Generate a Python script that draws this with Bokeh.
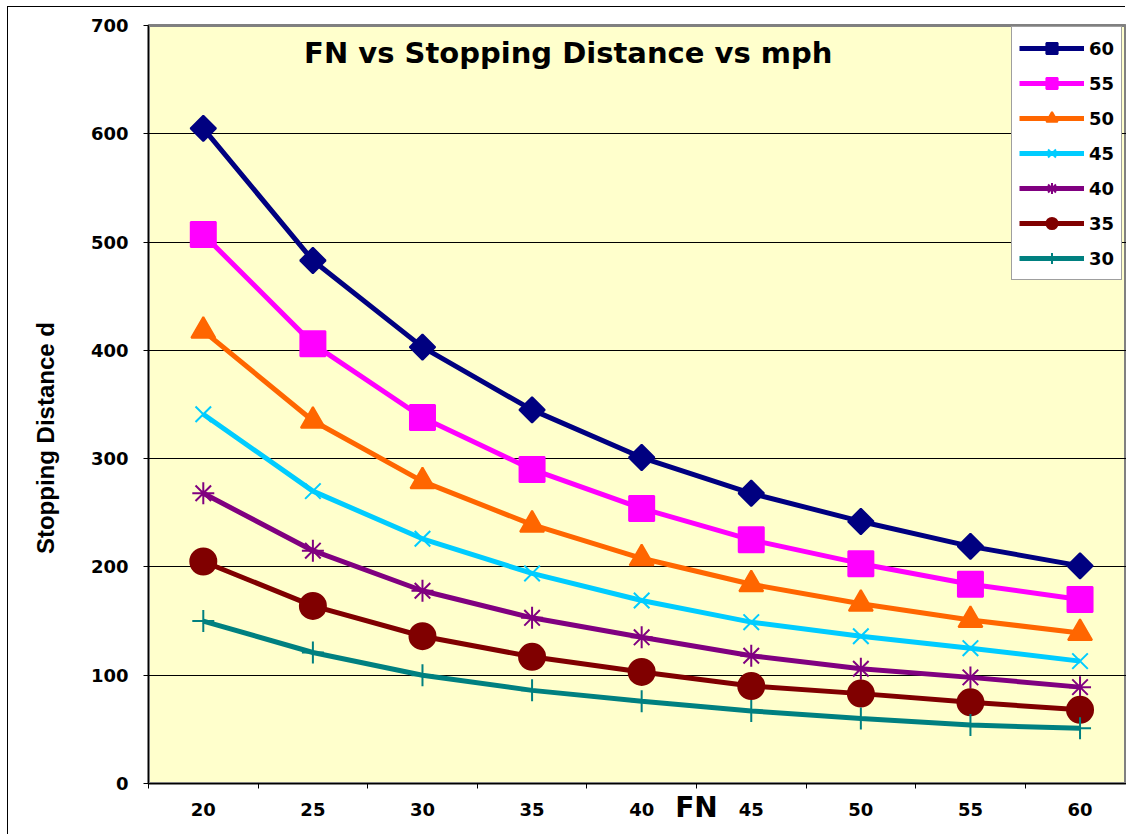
import numpy as np
from bokeh.plotting import figure
from bokeh.models import Range1d, FixedTicker, Legend, LegendItem, Label, LinearAxis, InlineStyleSheet
from bokeh.embed import file_html
from bokeh.resources import INLINE

# ---- data ----
fn = [20, 25, 30, 35, 40, 45, 50, 55, 60]
mph_labels = ["60", "55", "50", "45", "40", "35", "30"]
d60 = [605, 483, 403, 345, 301, 268, 242, 219, 201]
d55 = [507, 406, 338, 290, 254, 225, 203, 184, 170]
d50 = [418, 335, 279, 239, 208, 184, 166, 151, 139]
d45 = [341, 270, 226, 194, 169, 149, 136, 125, 113]
d40 = [268, 215, 178, 153, 135, 118, 106, 98, 89]
d35 = [205, 164, 136, 117, 103, 90, 83, 75, 68]
d30 = [150, 121, 100, 86, 76, 67, 60, 54, 51]
series = [d60, d55, d50, d45, d40, d35, d30]
y_ticks = [0, 100, 200, 300, 400, 500, 600, 700]

colors = ["#000080", "#FF00FF", "#FF6600", "#00CCFF", "#800080", "#800000", "#008080"]
markers = ["square", "square", "triangle", "x", "asterisk", "circle", "cross"]
angles = [np.pi / 4, 0, 0, 0, 0, 0, 0]
sizes = [18, 25, 24, 22, 22, 26, 22]

BOLD_FONT = "DejaVu Sans"

p = figure(width=1118, height=828, output_backend="svg", toolbar_location=None,
           x_range=Range1d(17.5, 62.12), y_range=Range1d(0, 700),
           min_border_left=140, min_border_right=0, min_border_top=18, min_border_bottom=52)
# outer chart border (top + left edges visible in the reference)
p.styles = {"margin-left": "8px", "margin-top": "7px"}
p.stylesheets = [InlineStyleSheet(css=":host { box-shadow: -1px -1px 0px 0px #000000 !important; "
                                      "outline: none; overflow: visible !important; }")]

p.background_fill_color = "#FFFFCC"
p.border_fill_color = "white"
p.outline_line_color = "#808080"
p.outline_line_width = 3

# grid
p.xgrid.grid_line_color = None
p.ygrid.grid_line_color = "black"
p.ygrid.grid_line_width = 1
p.ygrid.ticker = FixedTicker(ticks=y_ticks)

# x axis
p.xaxis.ticker = FixedTicker(ticks=fn, minor_ticks=[17.5 + 5 * i for i in range(10)])
p.xaxis.major_tick_out = 5
p.xaxis.major_tick_in = 0
p.xaxis.major_tick_line_color = None
p.xaxis.minor_tick_out = 5
p.xaxis.minor_tick_in = 0
p.xaxis.minor_tick_line_color = "black"
p.xaxis.axis_line_color = "black"
p.xaxis.major_label_text_font = BOLD_FONT
p.xaxis.major_label_text_font_style = "bold"
p.xaxis.major_label_text_font_size = "18px"
p.xaxis.major_label_text_color = "black"
p.xaxis.major_label_standoff = 14

# y axis
p.yaxis.ticker = FixedTicker(ticks=y_ticks)
p.yaxis.major_tick_out = 5
p.yaxis.major_tick_in = 0
p.yaxis.minor_tick_line_color = None
p.yaxis.major_tick_line_color = "black"
p.yaxis.axis_line_color = "black"
p.yaxis.major_label_text_font = BOLD_FONT
p.yaxis.major_label_text_font_style = "bold"
p.yaxis.major_label_text_font_size = "18px"
p.yaxis.major_label_text_color = "black"
p.yaxis.major_label_standoff = 15

# x axis title "FN" (second, label-only axis; placed off-centre like the reference)
fn_title_pos = 42.5
x_title_axis = LinearAxis(ticker=FixedTicker(ticks=[fn_title_pos]),
                          major_label_overrides={fn_title_pos: "FN"},
                          axis_line_color=None, major_tick_line_color=None,
                          minor_tick_line_color=None, major_tick_out=0, major_tick_in=0,
                          minor_tick_out=0, minor_tick_in=0,
                          major_label_standoff=-28,
                          major_label_text_font=BOLD_FONT, major_label_text_font_style="bold",
                          major_label_text_font_size="28px", major_label_text_color="black")
p.add_layout(x_title_axis, "below")

# y axis title (second, label-only axis)
y_title_pos = 319
y_title_axis = LinearAxis(ticker=FixedTicker(ticks=[y_title_pos]),
                          major_label_overrides={y_title_pos: "Stopping Distance d"},
                          major_label_orientation="vertical",
                          axis_line_color=None, major_tick_line_color=None,
                          minor_tick_line_color=None, major_tick_out=0, major_tick_in=0,
                          minor_tick_out=0, minor_tick_in=0,
                          major_label_standoff=28,
                          major_label_text_font="Liberation Sans", major_label_text_font_style="bold",
                          major_label_text_font_size="24px", major_label_text_color="black")
p.add_layout(y_title_axis, "left")

items = []
for lab, vals, col, mk, ang, sz in zip(mph_labels, series, colors, markers, angles, sizes):
    lr = p.line(fn, vals, line_color=col, line_width=5)
    sr = p.scatter(fn, vals, marker=mk, size=sz, angle=ang, fill_color=col,
                   line_color=col, line_width=2)
    items.append(LegendItem(label=lab, renderers=[lr, sr]))

legend = Legend(items=items, location=(863, 503), margin=0, padding=7,
                glyph_width=65, glyph_height=28, spacing=7, label_standoff=5,
                label_text_font=BOLD_FONT, label_text_font_style="bold",
                label_text_font_size="18px", label_text_color="black",
                background_fill_color="white", background_fill_alpha=1,
                border_line_color="#404040", border_line_width=1)
p.add_layout(legend)

# chart title inside the plot area
p.add_layout(Label(x=36.65, y=675, text="FN vs Stopping Distance vs mph",
                   text_font=BOLD_FONT, text_font_style="bold", text_font_size="29px",
                   text_align="center", text_baseline="middle", text_color="black"))

open("out.html", "w").write(file_html(p, INLINE))
